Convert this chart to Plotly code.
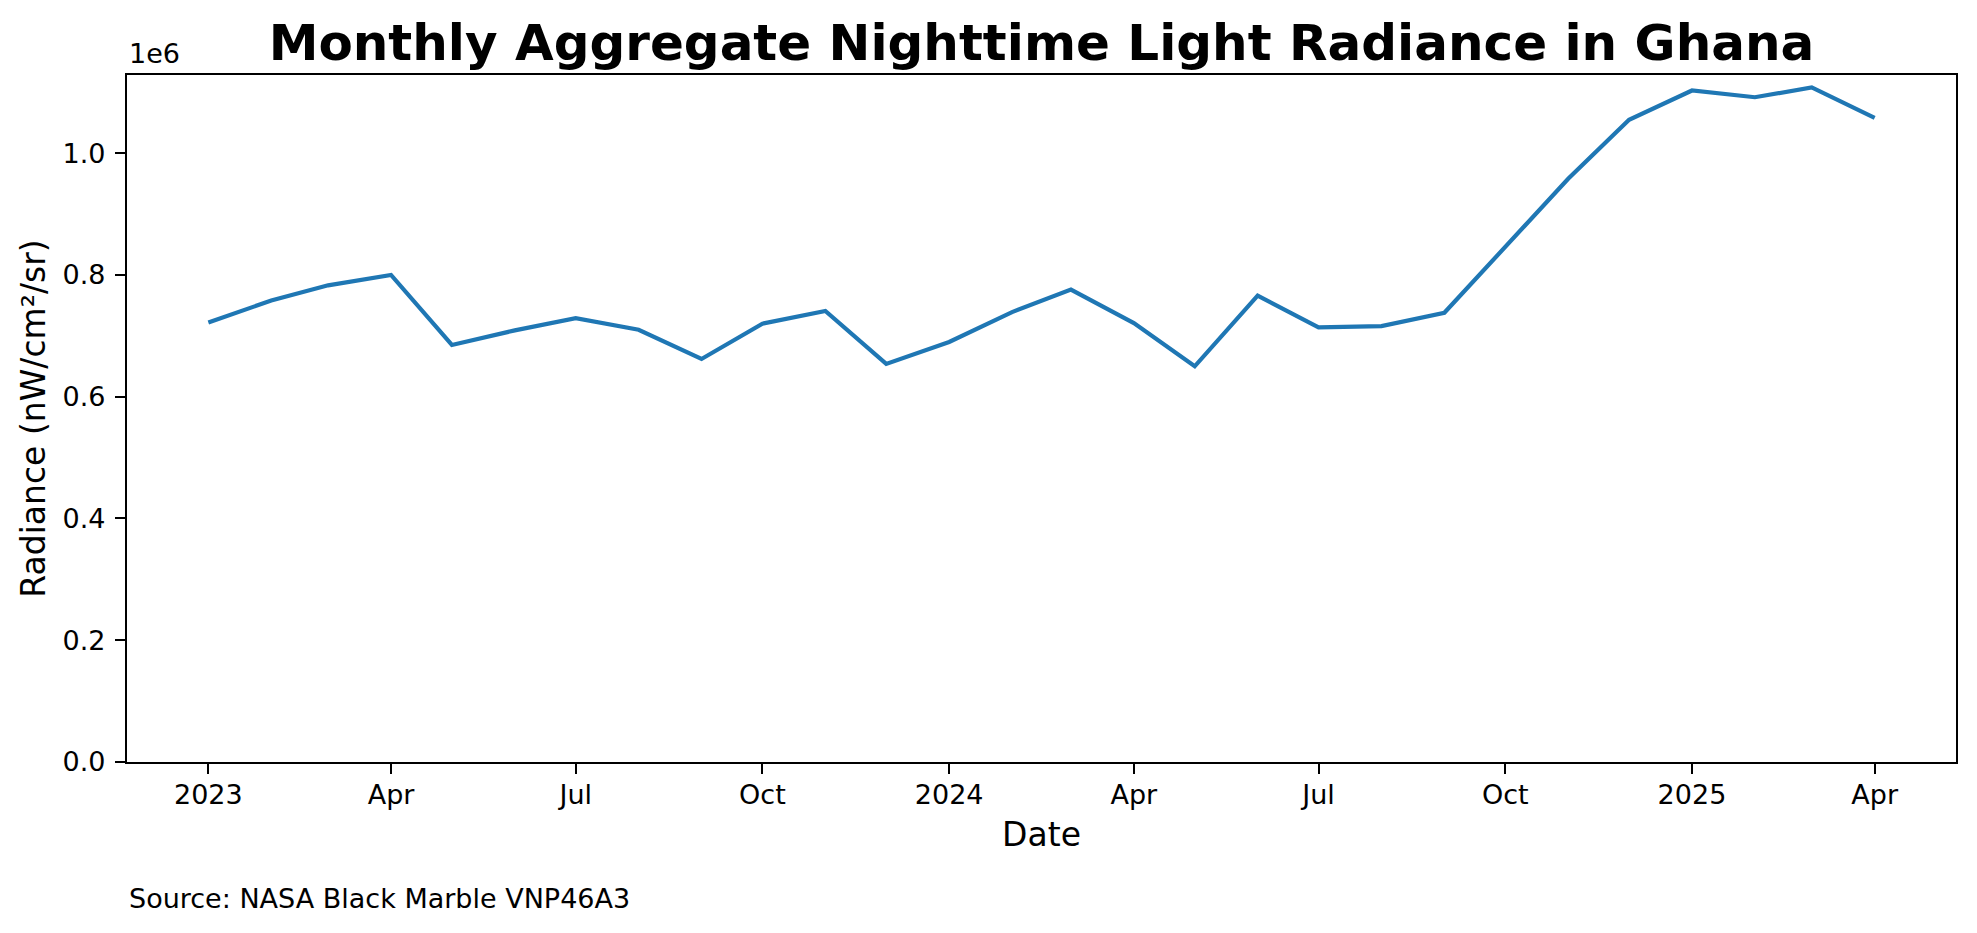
import plotly.graph_objects as go

dates = ["2023-01-01", "2023-02-01", "2023-03-01", "2023-04-01", "2023-05-01", "2023-06-01",
         "2023-07-01", "2023-08-01", "2023-09-01", "2023-10-01", "2023-11-01", "2023-12-01",
         "2024-01-01", "2024-02-01", "2024-03-01", "2024-04-01", "2024-05-01", "2024-06-01",
         "2024-07-01", "2024-08-01", "2024-09-01", "2024-10-01", "2024-11-01", "2024-12-01",
         "2025-01-01", "2025-02-01", "2025-03-01", "2025-04-01"]
radiance = [722000, 758000, 783000, 800000, 685000, 709000,
            729000, 710000, 662000, 720000, 741000, 654000,
            690000, 739000, 776000, 721000, 650000, 766000,
            714000, 716000, 738000, 846000, 958000, 1055000,
            1103000, 1092000, 1108000, 1058000]

x_tick_vals = ["2023-01-01", "2023-04-01", "2023-07-01", "2023-10-01", "2024-01-01",
               "2024-04-01", "2024-07-01", "2024-10-01", "2025-01-01", "2025-04-01"]
x_tick_text = ["2023", "Apr", "Jul", "Oct", "2024", "Apr", "Jul", "Oct", "2025", "Apr"]
y_tick_vals = [0, 200000, 400000, 600000, 800000, 1000000]
y_tick_text = ["0.0", "0.2", "0.4", "0.6", "0.8", "1.0"]

FONT = "DejaVu Sans"
OFF = 8  # default page body margin
W, H = 1977 - OFF, 933 - OFF
L = 127 - OFF
T = 75 - OFF
R = W - (1956 - OFF)
B = H - (762 - OFF)

fig = go.Figure()
fig.add_trace(go.Scatter(x=dates, y=radiance, mode="lines",
                         line=dict(color="#1f77b4", width=4.2)))

fig.update_layout(
    width=W, height=H,
    margin=dict(l=L, r=R, t=T, b=B, autoexpand=False),
    plot_bgcolor="white", paper_bgcolor="white",
    showlegend=False,
    font=dict(family=FONT, color="black", size=27),
    title=dict(text="<b>Monthly Aggregate Nighttime Light Radiance in Ghana</b>",
               font=dict(family=FONT, size=50, color="black"),
               x=0.5, xref="paper", xanchor="center",
               y=1 - (42 - OFF) / H, yref="container", yanchor="middle"),
)
fig.update_xaxes(
    type="date", automargin=False,
    range=["2022-11-21 22:00", "2025-05-11 02:00"],
    tickvals=x_tick_vals, ticktext=x_tick_text,
    ticks="outside", ticklen=10, tickwidth=2.2, tickcolor="black",
    ticklabelstandoff=-3,
    showline=True, linecolor="black", linewidth=2.2, mirror=True,
    showgrid=False, zeroline=False,
    tickfont=dict(family=FONT, size=27, color="black"),
    title=dict(text="Date", font=dict(family=FONT, size=33, color="black"), standoff=14),
)
fig.update_yaxes(
    range=[0, 1128500], automargin=False,
    tickvals=y_tick_vals, ticktext=y_tick_text,
    ticks="outside", ticklen=10, tickwidth=2.2, tickcolor="black",
    ticklabelstandoff=4,
    showline=True, linecolor="black", linewidth=2.2, mirror=True,
    showgrid=False, zeroline=False,
    tickfont=dict(family=FONT, size=27, color="black"),
    title=dict(text="Radiance (nW/cm²/sr)", font=dict(family=FONT, size=33, color="black"), standoff=7),
)
fig.add_annotation(text="1e6", xref="paper", yref="paper", x=0, y=1,
                   xanchor="left", yanchor="bottom", yshift=4, showarrow=False,
                   font=dict(family=FONT, size=27, color="black"))
fig.add_annotation(text="Source: NASA Black Marble VNP46A3", xref="paper", yref="paper",
                   x=0, y=-((898 - OFF) - (H - B)) / (H - T - B), xanchor="left", yanchor="middle",
                   showarrow=False, font=dict(family=FONT, size=27, color="black"))

fig.write_html("out.html")
